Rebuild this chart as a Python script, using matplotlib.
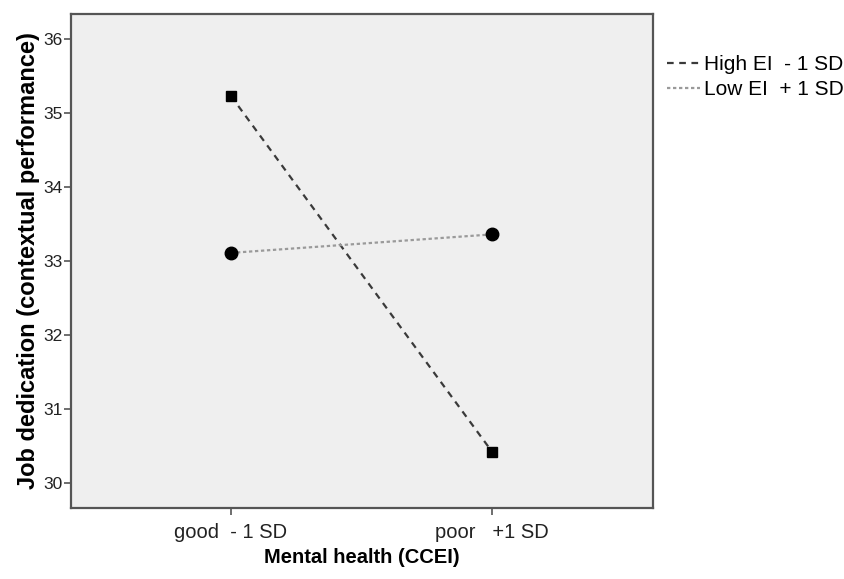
import matplotlib
matplotlib.use("Agg")
import matplotlib.pyplot as plt
from matplotlib.lines import Line2D

plt.rcParams['font.family'] = ['Liberation Sans', 'DejaVu Sans']

# データ
x_labels = ["good  - 1 SD", "poor   +1 SD"]
high_ei = [35.23, 30.42]
low_ei = [33.11, 33.36]
series_names = ["High EI  - 1 SD", "Low EI  + 1 SD"]

fig = plt.figure(figsize=(8.45, 5.79), dpi=100)
ax = fig.add_axes([0.084, 0.1226, 0.689, 0.8532])
ax.set_facecolor("#efefef")

xs = range(len(x_labels))
ax.plot(xs, high_ei, linestyle=(0, (3, 2.5)), color="#3a3a3a", lw=1.6,
        marker="s", ms=7.5, mfc="black", mec="black")
ax.plot(xs, low_ei, linestyle=(0, (1.5, 1.2)), color="#9a9a9a", lw=1.6,
        marker="o", ms=9, mfc="black", mec="black")

ax.set_xlim(-0.613, 1.617)
ax.set_ylim(29.66, 36.34)
ax.set_xticks(list(xs))
ax.set_xticklabels(x_labels, fontsize=14.5, color="#222222")
ax.set_yticks(range(30, 37))
ax.tick_params(axis="y", labelsize=12.5, colors="#555555", labelcolor="#222222",
               length=5, width=1.2, pad=1)
ax.tick_params(axis="x", colors="#555555", labelcolor="#222222",
               length=5, width=1.2, pad=6)

for s in ax.spines.values():
    s.set_color("#555555")
    s.set_linewidth(1.6)

ax.set_xlabel("Mental health (CCEI)", fontsize=14.5, fontweight="bold", labelpad=4)
ax.set_ylabel("Job dedication (contextual performance)", fontsize=17,
              fontweight="bold", labelpad=2)

# 凡例
handles = [
    Line2D([], [], linestyle=(0, (3, 2.5)), color="#3a3a3a", lw=1.6),
    Line2D([], [], linestyle=(0, (1.5, 1.2)), color="#9a9a9a", lw=1.6),
]
fig.legend(handles, series_names, loc="upper left", bbox_to_anchor=(0.789, 0.905),
           frameon=False, fontsize=15, handlelength=1.6, handletextpad=0.2,
           labelspacing=0.3, borderaxespad=0, borderpad=0)

fig.savefig("out.png", dpi=100)
